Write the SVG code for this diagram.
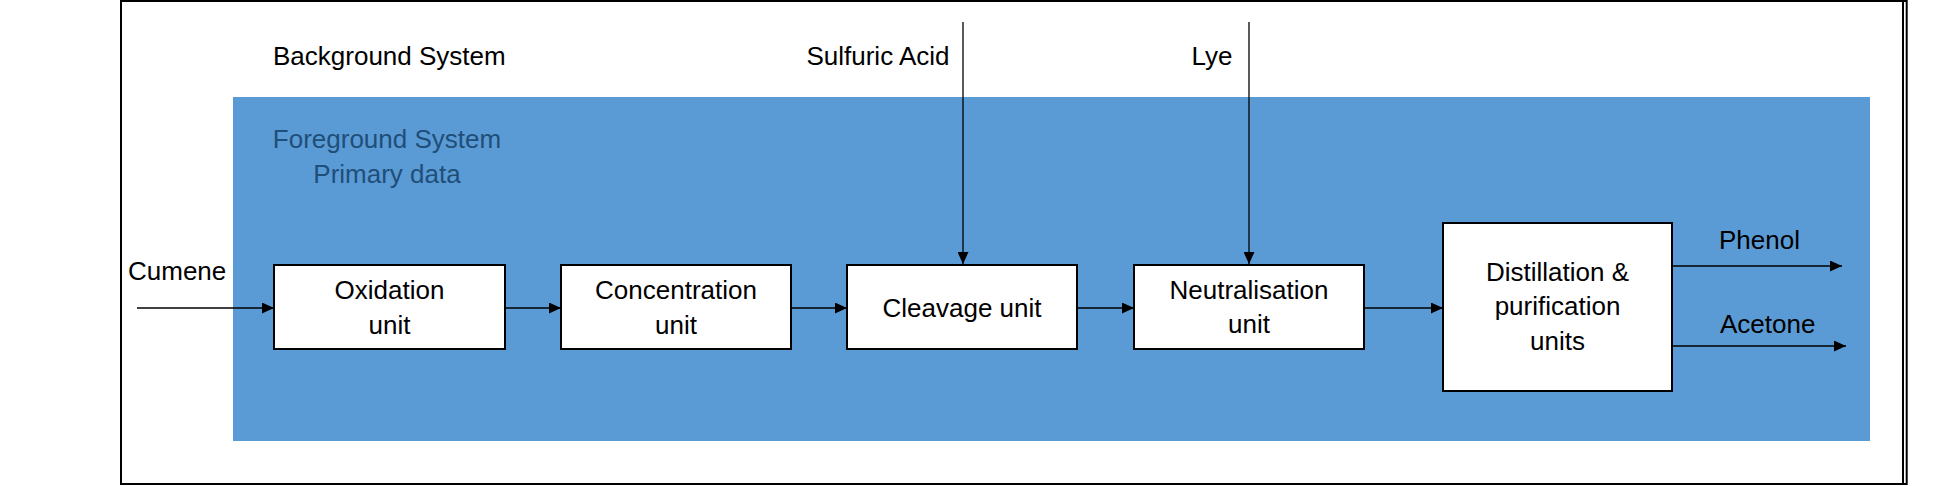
<svg xmlns="http://www.w3.org/2000/svg" width="1950" height="486" viewBox="0 0 1950 486">
<style>
text{font-family:"Liberation Sans",Arial,sans-serif;font-size:26px;fill:#000}
.fg{fill:#1F4E79}
.box{fill:#fff;stroke:#000;stroke-width:2}
.conn line{stroke:#000;stroke-width:1.3;marker-end:url(#ah)}
.mid{text-anchor:middle}
</style>
<defs>
<marker id="ah" markerUnits="userSpaceOnUse" markerWidth="12" markerHeight="11" refX="12" refY="5.5" orient="auto">
<path d="M0,0 L12,5.5 L0,11 z" fill="#000"/>
</marker>
</defs>
<rect width="1950" height="486" fill="#fff"/>
<g id="background">
<path d="M121,0 V485 M120,1 H1907 M120,484 H1907 M1903,0 V485 M1906.7,0 V485" stroke="#000" stroke-width="2" fill="none"/>
<text x="273" y="65">Background System</text>
</g>
<g id="foreground">
<rect x="233" y="97" width="1637" height="344" fill="#5B9BD5"/>
<text class="fg mid" x="387" y="148">Foreground System</text>
<text class="fg mid" x="387" y="183">Primary data</text>
</g>
<g id="connectors" class="conn">
<line x1="137" y1="308" x2="274" y2="308"/>
<line x1="505" y1="308" x2="561" y2="308"/>
<line x1="791" y1="308" x2="847" y2="308"/>
<line x1="1077" y1="308" x2="1134" y2="308"/>
<line x1="1364" y1="308" x2="1443" y2="308"/>
<line x1="963" y1="22" x2="963" y2="264"/>
<line x1="1249" y1="22" x2="1249" y2="264"/>
<line x1="1672" y1="266" x2="1842" y2="266"/>
<line x1="1672" y1="346" x2="1846" y2="346"/>
</g>
<g id="labels">
<text x="128" y="280">Cumene</text>
<text class="mid" x="878" y="65">Sulfuric Acid</text>
<text class="mid" x="1212" y="65">Lye</text>
<text x="1719" y="249">Phenol</text>
<text x="1720" y="333">Acetone</text>
</g>
<g id="oxidation">
<rect class="box" x="274" y="265" width="231" height="84"/>
<text class="mid" x="389.5" y="299">Oxidation</text>
<text class="mid" x="389.5" y="334">unit</text>
</g>
<g id="concentration">
<rect class="box" x="561" y="265" width="230" height="84"/>
<text class="mid" x="676" y="299">Concentration</text>
<text class="mid" x="676" y="334">unit</text>
</g>
<g id="cleavage">
<rect class="box" x="847" y="265" width="230" height="84"/>
<text class="mid" x="962" y="317">Cleavage unit</text>
</g>
<g id="neutralisation">
<rect class="box" x="1134" y="265" width="230" height="84"/>
<text class="mid" x="1249" y="299">Neutralisation</text>
<text class="mid" x="1249" y="333">unit</text>
</g>
<g id="distillation">
<rect class="box" x="1443" y="223" width="229" height="168"/>
<text class="mid" x="1557.5" y="281">Distillation &amp;</text>
<text class="mid" x="1557.5" y="315">purification</text>
<text class="mid" x="1557.5" y="350">units</text>
</g>
</svg>
